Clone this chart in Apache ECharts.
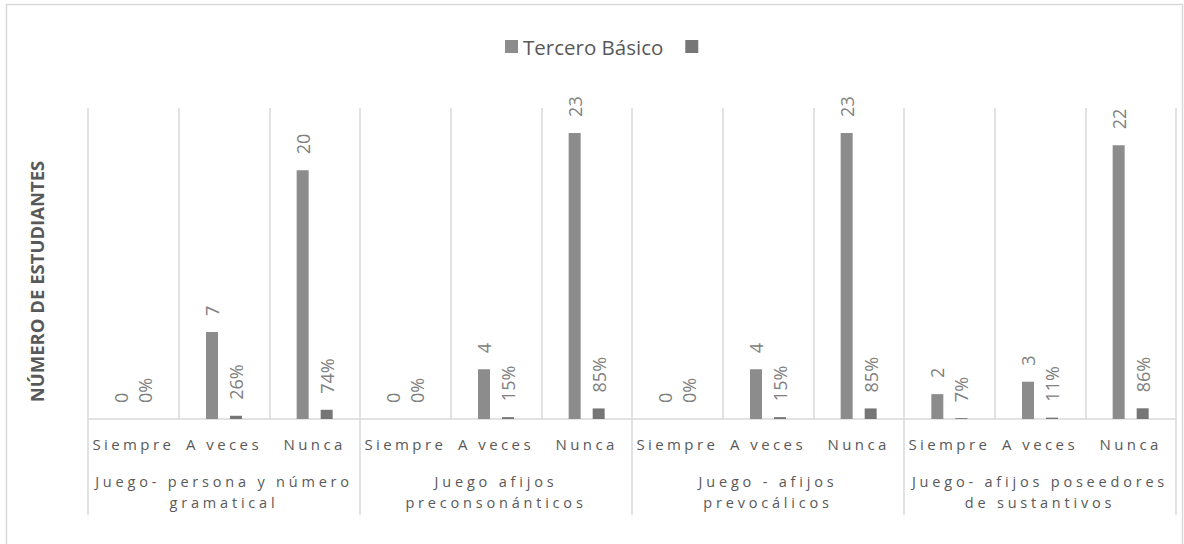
<!DOCTYPE html>
<html>
<head>
<meta charset="utf-8">
<script src="https://cdn.jsdelivr.net/npm/echarts@6/dist/echarts.min.js"></script>
<style>
  html, body { margin: 0; padding: 0; background: #fff; }
  #chart { width: 1184px; height: 544px; }
  /* spaced-out axis captions */
  #chart text[style*="15px"] { letter-spacing: 3.4px; }
  #chart text[style*="14.5px"] { letter-spacing: 3.8px; }
</style>
</head>
<body>
<div id="chart"></div>
<script>
// Answer options under each game, grouped by game
const answers = ['Siempre', 'A veces', 'Nunca'];
const games = [
  'Juego- persona y número\ngramatical',
  'Juego afijos\npreconsonánticos',
  'Juego - afijos\nprevocálicos',
  'Juego- afijos poseedores\nde sustantivos'
];
// Number of students per answer (Tercero Básico)
const students = [0, 7, 20, 0, 4, 23, 0, 4, 23, 2, 3, 22];
// Share of students per answer within each game
const shares = [0, 0.26, 0.74, 0, 0.15, 0.85, 0, 0.15, 0.85, 0.07, 0.11, 0.86];

const categories = [];
games.forEach(() => answers.forEach(a => categories.push(a)));

const FONT = "'Open Sans', 'Noto Sans', sans-serif";
const labelCommon = {
  show: true,
  position: 'top',
  rotate: 90,
  align: 'left',
  verticalAlign: 'middle',
  distance: 16,
  fontFamily: FONT,
  fontSize: 18,
  color: '#808080'
};

const chart = echarts.init(document.getElementById('chart'), null, { renderer: 'svg' });
chart.setOption({
  animation: false,
  backgroundColor: '#ffffff',
  textStyle: { fontFamily: FONT },
  graphic: [{
    type: 'rect',
    shape: { x: 6.5, y: 4.5, width: 1176, height: 600 },
    style: { fill: 'none', stroke: '#d9d9d9', lineWidth: 1.5 },
    silent: true
  }],
  legend: {
    top: 31,
    left: 500,
    icon: 'rect',
    itemWidth: 13,
    itemHeight: 13,
    itemGap: 22,
    textStyle: { fontFamily: FONT, fontSize: 20.5, color: '#595959' },
    data: ['Tercero Básico', ' ']
  },
  grid: { left: 88, right: 8, top: 108, bottom: 125, containLabel: false },
  xAxis: [{
    type: 'category',
    data: categories,
    position: 'bottom',
    axisLine: { show: true, lineStyle: { color: '#d9d9d9', width: 1.5 } },
    axisTick: { show: false },
    splitLine: { show: true, lineStyle: { color: '#d9d9d9', width: 1.5 } },
    axisLabel: { interval: 0, margin: 17, fontFamily: FONT, fontSize: 15, color: '#595959' }
  }, {
    type: 'category',
    data: games,
    position: 'bottom',
    axisLine: { show: false },
    axisTick: { show: true, length: 96, alignWithLabel: false, lineStyle: { color: '#d9d9d9', width: 1.5 } },
    splitLine: { show: false },
    axisLabel: { interval: 0, margin: 52, fontFamily: FONT, fontSize: 14.5, lineHeight: 21, color: '#595959' }
  }],
  yAxis: {
    type: 'value',
    min: 0,
    max: 25,
    axisLine: { show: false },
    axisTick: { show: false },
    axisLabel: { show: false },
    splitLine: { show: false },
    name: 'NÚMERO DE ESTUDIANTES',
    nameLocation: 'middle',
    nameGap: 42,
    nameTextStyle: {
      fontFamily: FONT, fontSize: 18.5, fontWeight: 'bold', color: '#595959',
      padding: [0, 36, 0, 0]
    }
  },
  series: [{
    name: 'Tercero Básico',
    type: 'bar',
    data: students,
    barWidth: 12,
    barGap: '100%',
    itemStyle: { color: '#8c8c8c' },
    label: labelCommon
  }, {
    name: ' ',
    type: 'bar',
    data: shares,
    barWidth: 12,
    itemStyle: { color: '#767676' },
    label: Object.assign({}, labelCommon, {
      formatter: p => Math.round(p.value * 100) + '%'
    })
  }]
});
</script>
</body>
</html>
